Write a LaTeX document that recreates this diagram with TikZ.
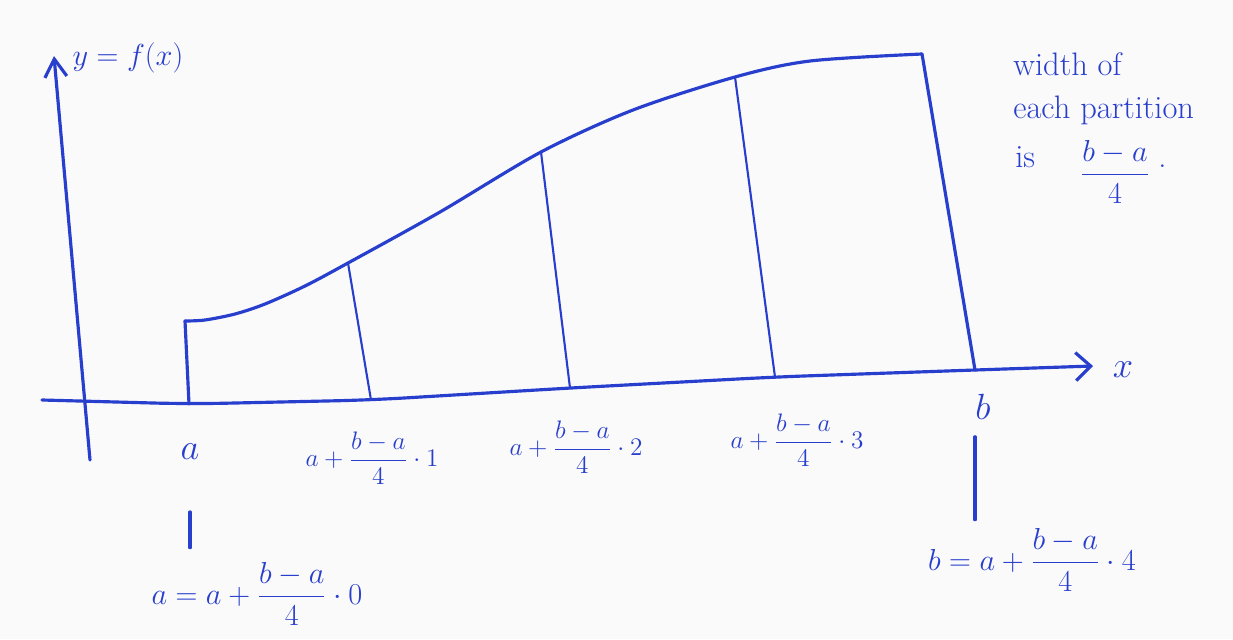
\documentclass[tikz,border=0pt]{standalone}
\usepackage{amsmath}
\usetikzlibrary{arrows.meta}
\definecolor{penblue}{RGB}{40,62,205}
\begin{document}
\begin{tikzpicture}[x=0.02cm,y=-0.02cm,pen/.style={penblue,line width=1.8pt,line cap=round,line join=round},thin pen/.style={pen,line width=1.2pt},lab/.style={penblue,font=\Large,inner sep=1pt},big lab/.style={penblue,font=\LARGE,inner sep=1pt},note/.style={penblue,font=\fontsize{18.5}{22}\selectfont,anchor=base west,inner sep=0pt}]
	\useasboundingbox (0,0) rectangle (1233,639);
	\fill[black!2] (0,0) rectangle (1233,639);
	\draw[pen,-{Straight Barb[length=0.36cm,width=0.44cm]}] (90,460) -- (54,56);
	\draw[pen,rounded corners=20pt,-{Straight Barb[length=0.3cm,width=0.56cm]}] (42,400) -- (190,404) -- (371,400) -- (570,388) -- (775,377) -- (975,370) -- (1093,366);
	\foreach \n/\x/\y in {0/185/321,1/348/263,2/541/152,3/735/77,4/922/54} \coordinate (p\n) at (\x,\y);
	\foreach \n/\x/\y in {0/189/404,1/371/400,2/570/388,3/775/377,4/975/370} \coordinate (q\n) at (\x,\y);
	\draw[pen] plot[smooth,tension=0.5] coordinates {(p0) (205,320) (235,314) (265,304) (305,286) (p1) (440,212) (p2) (633,110) (p3) (810,61) (p4)};
	\draw[pen] (p0) -- (q0) (p4) -- (q4);
	\foreach \n in {1,2,3} \draw[thin pen] (p\n) -- (q\n);
	\node[big lab] (ylab) at (128,58) {$y=f(x)$};
	\node[penblue,font=\huge] (xlab) at (1123,370) {$x$};
	\node[lab,font=\huge] (la) at (190,452) {$a$};
	\node[lab,font=\huge] (lb) at (983,407) {$b$};
	\foreach \n/\x/\y in {1/372/458,2/576/447,3/797/440} \node[lab] (l\n) at (\x,\y) {$a+\dfrac{b-a}{4}\cdot\n$};
	\node[big lab] (eqa) at (257,594) {$a=a+\dfrac{b-a}{4}\cdot 0$};
	\node[big lab] (eqb) at (1032,560) {$b=a+\dfrac{b-a}{4}\cdot 4$};
	\draw[pen,shorten <=1.0cm,shorten >=0.26cm] (la.south) -- (la.south |- eqa.north);
	\draw[pen,shorten <=0.3cm,shorten >=0.14cm] ([xshift=-0.16cm]lb.south) -- ([xshift=-0.16cm]lb.south |- eqb.north);
	\node[note] (w1) at (1013,75) {width of};
	\node[note] (w2) at (1013,118) {each partition};
	\node[note] (w3) at (1015,167) {is};
	\node[penblue,font=\fontsize{18.5}{22}\selectfont,inner sep=0pt] (wf) at (1115,172) {$\dfrac{b-a}{4}$};
	\node[note] (wd) at (1158,167) {.};
\end{tikzpicture}
\end{document}
